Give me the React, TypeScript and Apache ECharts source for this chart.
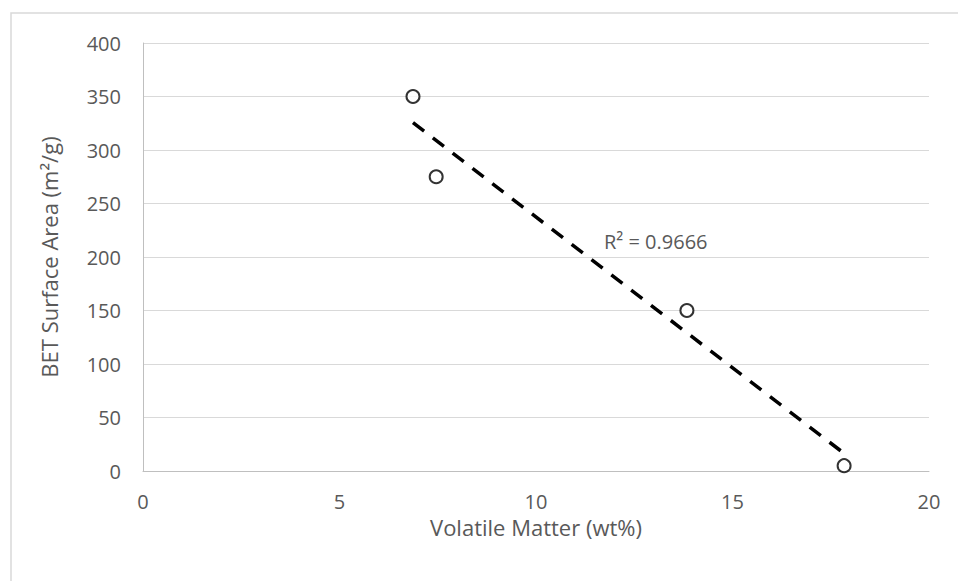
import React, { useEffect, useRef } from "react";
import * as echarts from "echarts";

const volatileMatter = [6.87, 7.46, 13.84, 17.84];
const betSurfaceArea = [350, 275, 150, 5];
const xTicks = [0, 5, 10, 15, 20];
const yTicks = [0, 50, 100, 150, 200, 250, 300, 350, 400];
const r2Label = "R² = 0.9666";

function linearFit(xs: number[], ys: number[]) {
  const n = xs.length;
  const mx = xs.reduce((a, b) => a + b, 0) / n;
  const my = ys.reduce((a, b) => a + b, 0) / n;
  let sxy = 0;
  let sxx = 0;
  for (let i = 0; i < n; i++) {
    sxy += (xs[i] - mx) * (ys[i] - my);
    sxx += (xs[i] - mx) * (xs[i] - mx);
  }
  const slope = sxy / sxx;
  return { slope, intercept: my - slope * mx };
}

export default function App() {
  const ref = useRef<HTMLDivElement>(null);
  useEffect(() => {
    if (!ref.current) return;
    const chart = echarts.init(ref.current, undefined, { renderer: "svg" });
    const fit = linearFit(volatileMatter, betSurfaceArea);
    const xMin = Math.min(...volatileMatter);
    const xMax = Math.max(...volatileMatter);
    const trend = [
      [xMin, fit.slope * xMin + fit.intercept],
      [xMax, fit.slope * xMax + fit.intercept],
    ];
    const font = "'Open Sans', sans-serif";
    const labelColor = "#595959";
    chart.setOption({
      animation: false,
      backgroundColor: "#ffffff",
      grid: { left: 143, top: 43, right: 29, bottom: 110 },
      xAxis: {
        type: "value",
        min: xTicks[0],
        max: xTicks[xTicks.length - 1],
        interval: 5,
        name: "Volatile Matter (wt%)",
        nameLocation: "middle",
        nameGap: 40,
        nameTextStyle: { color: labelColor, fontSize: 22, fontFamily: font },
        axisLine: { show: true, lineStyle: { color: "#bfbfbf", width: 1 } },
        axisTick: { show: false },
        axisLabel: { color: labelColor, fontSize: 20, fontFamily: font, margin: 20 },
        splitLine: { show: false },
      },
      yAxis: {
        type: "value",
        min: yTicks[0],
        max: yTicks[yTicks.length - 1],
        interval: 50,
        name: "BET Surface Area (m²/g)",
        nameLocation: "middle",
        nameGap: 83,
        nameTextStyle: { color: labelColor, fontSize: 22, fontFamily: font },
        axisLine: { show: true, lineStyle: { color: "#bfbfbf", width: 1 } },
        axisTick: { show: false },
        axisLabel: { color: labelColor, fontSize: 20, fontFamily: font, margin: 22 },
        splitLine: { show: true, lineStyle: { color: "#d9d9d9", width: 1 } },
      },
      graphic: [
        {
          type: "rect",
          shape: { x: 11, y: 13, width: 960, height: 600 },
          style: { fill: "none", stroke: "#d9d9d9", lineWidth: 1.5 },
          z: -10,
        },
        {
          type: "text",
          x: 604,
          y: 241,
          style: {
            text: r2Label,
            fill: labelColor,
            fontSize: 20,
            fontFamily: font,
            verticalAlign: "middle",
          },
        },
      ],
      series: [
        {
          type: "line",
          data: trend,
          symbol: "none",
          lineStyle: { color: "#000000", width: 3.5, type: [14, 11] },
          z: 2,
        },
        {
          type: "scatter",
          data: volatileMatter.map((x, i) => [x, betSurfaceArea[i]]),
          symbol: "circle",
          symbolSize: 13,
          itemStyle: { color: "#ffffff", borderColor: "#000000", borderWidth: 2 },
          z: 3,
        },
      ],
    });
    return () => chart.dispose();
  }, []);
  return (
    <div
      ref={ref}
      style={{ position: "fixed", left: 0, top: 0, width: 958, height: 581 }}
    />
  );
}
